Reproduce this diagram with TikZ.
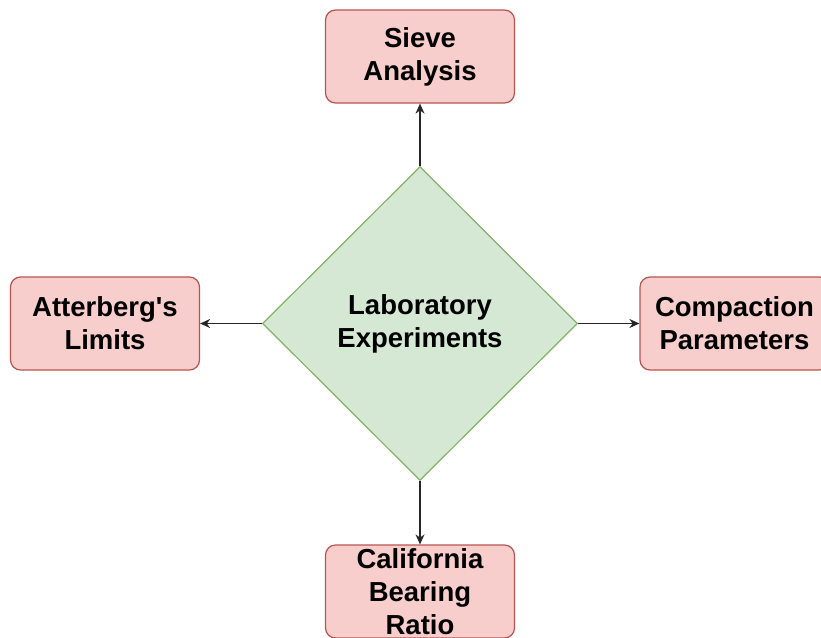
\documentclass[tikz,border=0pt]{standalone}
\usepackage{fontspec}
\setmainfont{Liberation Sans}
\usetikzlibrary{shapes.geometric,arrows.meta}
\definecolor{boxfill}{HTML}{F8CECC}
\definecolor{boxline}{HTML}{B85450}
\definecolor{diafill}{HTML}{D5E8D4}
\definecolor{dialine}{HTML}{82B366}
\tikzset{
  testbox/.style={rectangle, rounded corners=10pt, draw=boxline, fill=boxfill, line width=1.2pt,
    minimum width=189pt, minimum height=93pt, inner sep=0pt, align=center,
    font=\fontsize{27.5}{33}\selectfont\bfseries},
  mainbox/.style={diamond, draw=dialine, fill=diafill, line width=1.2pt,
    minimum width=315pt, minimum height=314pt, inner sep=0pt, align=center,
    font=\fontsize{27.5}{33}\selectfont\bfseries},
  link/.style={line width=1.6pt, draw=black!85, -{Stealth[length=10pt,width=9pt]}}
}
\begin{document}
\begin{tikzpicture}[x=1pt,y=-1pt]
\useasboundingbox (0,0) rectangle (821,637);
\node[mainbox] (lab) at (420,323.5) {Laboratory\\Experiments};
\node[testbox] (sieve) at (420,56.5) {Sieve\\Analysis};
\node[testbox] (atter) at (105,323.5) {Atterberg\textquotesingle s\\Limits};
\node[testbox] (comp) at (734.5,323.5) {Compaction\\Parameters};
\node[testbox] (cbr) at (420,591.5) {California\\Bearing\\Ratio};
\draw[link] (lab.north) -- (sieve.south);
\draw[link] (lab.west) -- (atter.east);
\draw[link] (lab.east) -- (comp.west);
\draw[link] (lab.south) -- (cbr.north);
\end{tikzpicture}
\end{document}
